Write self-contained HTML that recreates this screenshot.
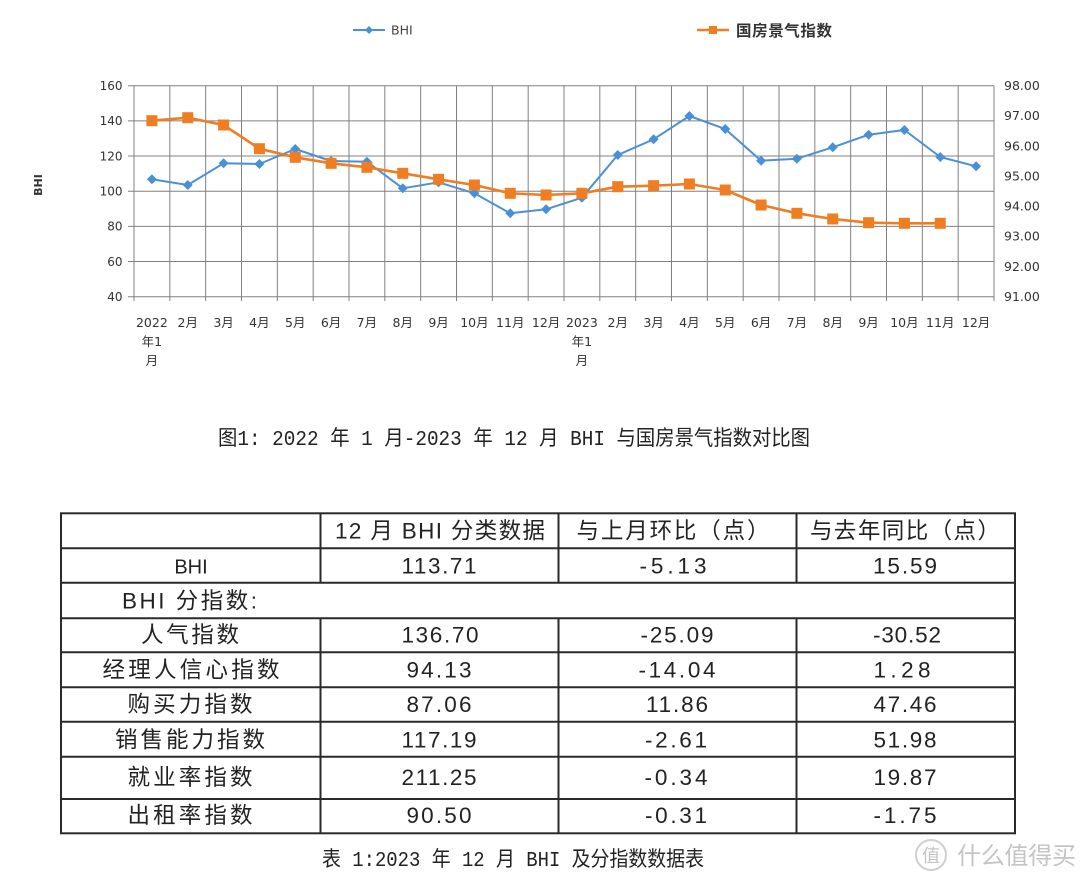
<!DOCTYPE html>
<html>
<head>
<meta charset="utf-8">
<style>
  html,body{margin:0;padding:0;background:#fff;}
  body{width:1080px;height:881px;overflow:hidden;}
  svg{display:block;}
  .ax{font-family:"DejaVu Sans","Noto Sans CJK SC",sans-serif;font-size:12px;fill:#333;}
  .xl{font-family:"DejaVu Sans","Noto Sans CJK SC",sans-serif;font-size:12.5px;fill:#333;}
  .cap{font-family:"Liberation Mono","Noto Sans CJK SC",monospace;font-size:21px;fill:#222;}
  .tb{font-family:"Liberation Sans","Noto Sans CJK SC",sans-serif;font-size:22.5px;fill:#222;}
</style>
</head>
<body>
<svg width="1080" height="881" viewBox="0 0 1080 881" xmlns="http://www.w3.org/2000/svg">
  <defs>
    <marker id="dm" viewBox="-6 -6 12 12" markerWidth="12" markerHeight="12" markerUnits="userSpaceOnUse" refX="0" refY="0">
      <path d="M0,-5 L5,0 L0,5 L-5,0 Z" fill="#4a90d9"/>
    </marker>
    <marker id="sm" viewBox="-7 -7 14 14" markerWidth="14" markerHeight="14" markerUnits="userSpaceOnUse" refX="0" refY="0">
      <rect x="-5.5" y="-5.5" width="11" height="11" fill="#ef7d22"/>
    </marker>
  </defs>

  <!-- Legend -->
  <line x1="353" y1="30" x2="385" y2="30" stroke="#4a90d9" stroke-width="2"/>
  <path d="M369,26 L373,30 L369,34 L365,30 Z" fill="#4a90d9"/>
  <text x="391" y="34.5" class="ax" style="font-size:12.5px;fill:#444">BHI</text>
  <line x1="697" y1="30" x2="729" y2="30" stroke="#ef7d22" stroke-width="2.5"/>
  <rect x="709" y="26" width="8" height="8" fill="#ef7d22"/>
  <text x="736" y="36" textLength="96" lengthAdjust="spacing" style="font-family:'Noto Sans CJK SC',sans-serif;font-size:15.5px;font-weight:bold;fill:#333">国房景气指数</text>

  <!-- Y axis title -->
  <text transform="translate(42,185) rotate(-90)" text-anchor="middle" style="font-family:'DejaVu Sans',sans-serif;font-size:11px;font-weight:bold;fill:#333">BHI</text>

  <!-- Grid horizontal -->
  <g stroke="#808080" stroke-width="1">
    <line x1="128" y1="85.7" x2="994" y2="85.7"/>
    <line x1="128" y1="120.87" x2="994" y2="120.87"/>
    <line x1="128" y1="156.03" x2="994" y2="156.03"/>
    <line x1="128" y1="191.2" x2="994" y2="191.2"/>
    <line x1="128" y1="226.37" x2="994" y2="226.37"/>
    <line x1="128" y1="261.53" x2="994" y2="261.53"/>
    <line x1="128" y1="296.7" x2="994" y2="296.7"/>
  </g>
  <!-- Grid vertical (with ticks) -->
  <g stroke="#808080" stroke-width="1">
    <line x1="134" y1="85.7" x2="134" y2="301"/>
    <line x1="169.83" y1="85.7" x2="169.83" y2="301"/>
    <line x1="205.67" y1="85.7" x2="205.67" y2="301"/>
    <line x1="241.5" y1="85.7" x2="241.5" y2="301"/>
    <line x1="277.33" y1="85.7" x2="277.33" y2="301"/>
    <line x1="313.17" y1="85.7" x2="313.17" y2="301"/>
    <line x1="349" y1="85.7" x2="349" y2="301"/>
    <line x1="384.83" y1="85.7" x2="384.83" y2="301"/>
    <line x1="420.67" y1="85.7" x2="420.67" y2="301"/>
    <line x1="456.5" y1="85.7" x2="456.5" y2="301"/>
    <line x1="492.33" y1="85.7" x2="492.33" y2="301"/>
    <line x1="528.17" y1="85.7" x2="528.17" y2="301"/>
    <line x1="564" y1="85.7" x2="564" y2="301"/>
    <line x1="599.83" y1="85.7" x2="599.83" y2="301"/>
    <line x1="635.67" y1="85.7" x2="635.67" y2="301"/>
    <line x1="671.5" y1="85.7" x2="671.5" y2="301"/>
    <line x1="707.33" y1="85.7" x2="707.33" y2="301"/>
    <line x1="743.17" y1="85.7" x2="743.17" y2="301"/>
    <line x1="779" y1="85.7" x2="779" y2="301"/>
    <line x1="814.83" y1="85.7" x2="814.83" y2="301"/>
    <line x1="850.67" y1="85.7" x2="850.67" y2="301"/>
    <line x1="886.5" y1="85.7" x2="886.5" y2="301"/>
    <line x1="922.33" y1="85.7" x2="922.33" y2="301"/>
    <line x1="958.17" y1="85.7" x2="958.17" y2="301"/>
    <line x1="994" y1="85.7" x2="994" y2="301"/>
  </g>

  <!-- Left axis labels -->
  <g class="ax" text-anchor="end">
    <text x="122.5" y="90">160</text>
    <text x="122.5" y="125.2">140</text>
    <text x="122.5" y="160.4">120</text>
    <text x="122.5" y="195.6">100</text>
    <text x="122.5" y="230.7">80</text>
    <text x="122.5" y="265.9">60</text>
    <text x="122.5" y="301">40</text>
  </g>
  <!-- Right axis labels -->
  <g class="ax" style="font-size:12.5px">
    <text x="1004" y="90">98.00</text>
    <text x="1004" y="120.2">97.00</text>
    <text x="1004" y="150.3">96.00</text>
    <text x="1004" y="180.4">95.00</text>
    <text x="1004" y="210.6">94.00</text>
    <text x="1004" y="240.7">93.00</text>
    <text x="1004" y="270.9">92.00</text>
    <text x="1004" y="301">91.00</text>
  </g>

  <!-- X axis labels -->
  <g class="xl" text-anchor="middle">
    <text x="151.9" y="327">2022</text>
    <text x="151.9" y="346">年1</text>
    <text x="151.9" y="365">月</text>
    <text x="187.75" y="327">2月</text>
    <text x="223.6" y="327">3月</text>
    <text x="259.4" y="327">4月</text>
    <text x="295.25" y="327">5月</text>
    <text x="331.1" y="327">6月</text>
    <text x="366.9" y="327">7月</text>
    <text x="402.75" y="327">8月</text>
    <text x="438.6" y="327">9月</text>
    <text x="474.4" y="327">10月</text>
    <text x="510.25" y="327">11月</text>
    <text x="546.1" y="327">12月</text>
    <text x="581.9" y="327">2023</text>
    <text x="581.9" y="346">年1</text>
    <text x="581.9" y="365">月</text>
    <text x="617.75" y="327">2月</text>
    <text x="653.6" y="327">3月</text>
    <text x="689.4" y="327">4月</text>
    <text x="725.25" y="327">5月</text>
    <text x="761.1" y="327">6月</text>
    <text x="796.9" y="327">7月</text>
    <text x="832.75" y="327">8月</text>
    <text x="868.6" y="327">9月</text>
    <text x="904.4" y="327">10月</text>
    <text x="940.25" y="327">11月</text>
    <text x="976.1" y="327">12月</text>
  </g>

  <!-- BHI series -->
  <polyline fill="none" stroke="#4a90d9" stroke-width="2" stroke-linejoin="round"
    marker-start="url(#dm)" marker-mid="url(#dm)" marker-end="url(#dm)"
    points="151.9,179.3 187.75,185 223.6,163.3 259.4,164 295.25,149 331.1,161 366.9,161.7 402.75,188.3 438.6,182.3 474.4,193.3 510.25,213.3 546.1,209.3 581.9,197.7 617.75,155 653.6,139.3 689.4,116 725.25,129 761.1,160.7 796.9,158.7 832.75,147.3 868.6,134.7 904.4,130 940.25,157 976.1,166.3"/>

  <!-- 国房景气指数 series -->
  <polyline fill="none" stroke="#ef7d22" stroke-width="2.6" stroke-linejoin="round"
    marker-start="url(#sm)" marker-mid="url(#sm)" marker-end="url(#sm)"
    points="151.9,120.7 187.75,117.7 223.6,125 259.4,148.7 295.25,157.3 331.1,163.3 366.9,167.3 402.75,173.3 438.6,179.3 474.4,185 510.25,193.3 546.1,195 581.9,193.3 617.75,186.7 653.6,185.7 689.4,184 725.25,190 761.1,205 796.9,213.3 832.75,219 868.6,222.7 904.4,223.3 940.25,223.3"/>

  <!-- Figure caption -->
  <text x="218" y="445" class="cap" textLength="592" lengthAdjust="spacingAndGlyphs">图1: 2022 年 1 月-2023 年 12 月 BHI 与国房景气指数对比图</text>

  <!-- Table grid -->
  <g stroke="#2a2a2a" stroke-width="2" fill="none">
    <rect x="61" y="513.3" width="954" height="320"/>
    <line x1="61" y1="548.3" x2="1015" y2="548.3"/>
    <line x1="61" y1="582.7" x2="1015" y2="582.7"/>
    <line x1="61" y1="618.3" x2="1015" y2="618.3"/>
    <line x1="61" y1="652.3" x2="1015" y2="652.3"/>
    <line x1="61" y1="687.3" x2="1015" y2="687.3"/>
    <line x1="61" y1="721.7" x2="1015" y2="721.7"/>
    <line x1="61" y1="756.7" x2="1015" y2="756.7"/>
    <line x1="61" y1="799" x2="1015" y2="799"/>
    <line x1="320.5" y1="513.3" x2="320.5" y2="582.7"/>
    <line x1="558.5" y1="513.3" x2="558.5" y2="582.7"/>
    <line x1="796.5" y1="513.3" x2="796.5" y2="582.7"/>
    <line x1="320.5" y1="618.3" x2="320.5" y2="833.3"/>
    <line x1="558.5" y1="618.3" x2="558.5" y2="833.3"/>
    <line x1="796.5" y1="618.3" x2="796.5" y2="833.3"/>
  </g>

  <!-- Table text -->
  <g class="tb" text-anchor="middle">
    <!-- header -->
    <text x="440" y="538.5" textLength="210" lengthAdjust="spacing">12 月 BHI 分类数据</text>
    <text x="673" y="538.5" textLength="193" lengthAdjust="spacing">与上月环比（点）</text>
    <text x="905" y="538.5" textLength="190" lengthAdjust="spacing">与去年同比（点）</text>
    <!-- BHI -->
    <text x="191" y="573.5" style="font-size:20px">BHI</text>
    <text x="439" y="573.5" textLength="75" lengthAdjust="spacing">113.71</text>
    <text x="673" y="573.5" textLength="67" lengthAdjust="spacing">-5.13</text>
    <text x="905" y="573.5" textLength="64" lengthAdjust="spacing">15.59</text>
    <!-- 人气指数 -->
    <text x="190" y="642.5" textLength="98" lengthAdjust="spacing">人气指数</text>
    <text x="440" y="642.5" textLength="77" lengthAdjust="spacing">136.70</text>
    <text x="677" y="642.5" textLength="73" lengthAdjust="spacing">-25.09</text>
    <text x="907" y="642.5" textLength="68" lengthAdjust="spacing">-30.52</text>
    <!-- 经理人信心指数 -->
    <text x="191" y="677.5" textLength="177" lengthAdjust="spacing">经理人信心指数</text>
    <text x="439" y="677.5" textLength="65" lengthAdjust="spacing">94.13</text>
    <text x="677" y="677.5" textLength="77" lengthAdjust="spacing">-14.04</text>
    <text x="902" y="677.5" textLength="57" lengthAdjust="spacing">1.28</text>
    <!-- 购买力指数 -->
    <text x="190" y="712" textLength="125" lengthAdjust="spacing">购买力指数</text>
    <text x="439" y="712" textLength="65" lengthAdjust="spacing">87.06</text>
    <text x="677" y="712" textLength="62" lengthAdjust="spacing">11.86</text>
    <text x="905" y="712" textLength="63" lengthAdjust="spacing">47.46</text>
    <!-- 销售能力指数 -->
    <text x="190" y="747.5" textLength="150" lengthAdjust="spacing">销售能力指数</text>
    <text x="439" y="747.5" textLength="75" lengthAdjust="spacing">117.19</text>
    <text x="676" y="747.5" textLength="62" lengthAdjust="spacing">-2.61</text>
    <text x="905" y="747.5" textLength="63" lengthAdjust="spacing">51.98</text>
    <!-- 就业率指数 -->
    <text x="190" y="785" textLength="125" lengthAdjust="spacing">就业率指数</text>
    <text x="439" y="785" textLength="75" lengthAdjust="spacing">211.25</text>
    <text x="676" y="785" textLength="63" lengthAdjust="spacing">-0.34</text>
    <text x="905" y="785" textLength="63" lengthAdjust="spacing">19.87</text>
    <!-- 出租率指数 -->
    <text x="190" y="823" textLength="125" lengthAdjust="spacing">出租率指数</text>
    <text x="439" y="823" textLength="65" lengthAdjust="spacing">90.50</text>
    <text x="676" y="823" textLength="62" lengthAdjust="spacing">-0.31</text>
    <text x="905" y="823" textLength="63" lengthAdjust="spacing">-1.75</text>
  </g>
  <text x="122" y="608.5" class="tb" textLength="135" lengthAdjust="spacing">BHI 分指数:</text>

  <!-- Table caption -->
  <text x="322" y="866" class="cap" textLength="382" lengthAdjust="spacingAndGlyphs">表 1:2023 年 12 月 BHI 及分指数数据表</text>

  <!-- Watermark -->
  <circle cx="931" cy="855" r="15" fill="none" stroke="#cfcfcf" stroke-width="2"/>
  <text x="931" y="862" text-anchor="middle" style="font-family:'Noto Sans CJK SC',sans-serif;font-size:18px;fill:#c4c4c4">值</text>
  <text x="957" y="864" textLength="119" lengthAdjust="spacing" style="font-family:'Noto Sans CJK SC',sans-serif;font-size:24px;fill:#c4c4c4">什么值得买</text>
</svg>
</body>
</html>
